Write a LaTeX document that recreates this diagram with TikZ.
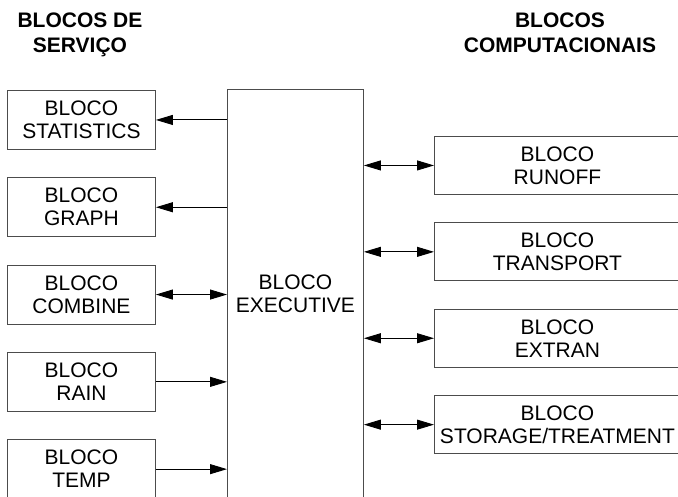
\documentclass[tikz,border=0pt]{standalone}
\usepackage{fontspec}
\setmainfont{Liberation Sans}
\usepackage{tikz}
\usetikzlibrary{arrows.meta,positioning}

\tikzset{
  block/.style={draw=black!70,line width=0.9pt,inner sep=0pt,align=center,
    minimum width=148pt,minimum height=59pt,font=\fontsize{21}{23}\selectfont},
  titel/.style={inner sep=0pt,align=center,font=\bfseries\fontsize{21}{25}\selectfont},
  pfeil/.style={black,line width=0.9pt,-{Triangle[length=17pt,width=10pt]}},
  doppel/.style={black,line width=0.9pt,{Triangle[length=17pt,width=10pt]}-{Triangle[length=17pt,width=10pt]}}
}

\begin{document}
\begin{tikzpicture}[x=1pt,y=-1pt]
%Alles in Pixeln des Bildes, y nach unten
  \pgfmathsetmacro{\dL}{87.3}
  \pgfmathsetmacro{\dR}{86.4}
  \clip (0,0) rectangle (678,497);
%Ueberschriften
  \node[titel,anchor=north] (tservico) at (80,13) {BLOCOS DE\\SERVIÇO};
  \node[titel,anchor=north] (tcomput) at (560,13) {BLOCOS\\COMPUTACIONAIS};
%Mittlerer Block
  \node[block,anchor=north west,minimum width=136pt,minimum height=408pt] (exec) at (227,89) {BLOCO\\EXECUTIVE};
%Linke Bloecke
\foreach \name/\txt [count=\i] in {stat/STATISTICS,graph/GRAPH,comb/COMBINE,rain/RAIN,temp/TEMP}{
  \node[block,anchor=north west] (\name) at (7,{90+\dL*(\i-1)}) {BLOCO\\\txt};
}
%Rechte Bloecke
\foreach \name/\txt [count=\i] in {runoff/RUNOFF,transp/TRANSPORT,extran/EXTRAN,storage/STORAGE\slash TREATMENT}{
  \node[block,anchor=north west,minimum width=246pt,minimum height=58pt] (\name) at (434,{136+\dR*(\i-1)}) {BLOCO\\\txt};
}
%Verbindungen
\draw[pfeil] (stat.east -| exec.west) -- (stat.east);
\draw[pfeil] (graph.east -| exec.west) -- (graph.east);
\draw[doppel] (comb.east) -- (comb.east -| exec.west);
\draw[pfeil] (rain.east) -- (rain.east -| exec.west);
\draw[pfeil] (temp.east) -- (temp.east -| exec.west);
\foreach \name in {runoff,transp,extran,storage}{
\draw[doppel] (exec.east |- \name.west) -- (\name.west);
}
\end{tikzpicture}
\end{document}
